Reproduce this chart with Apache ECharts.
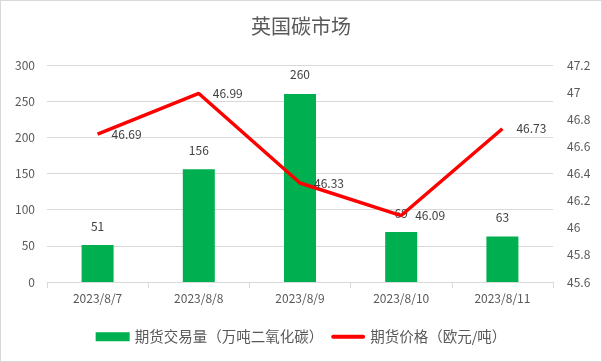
<!DOCTYPE html>
<html><head><meta charset="utf-8">
<script src="https://cdn.jsdelivr.net/npm/echarts@6/dist/echarts.min.js"></script>
<style>html,body{margin:0;padding:0;background:#fff}#c{width:602px;height:362px;box-sizing:border-box;border:1px solid #d9d9d9}</style>
</head><body><div id="c"></div>
<script>
const categories = ['2023/8/7','2023/8/8','2023/8/9','2023/8/10','2023/8/11'];
const volume = [51,156,260,69,63];
const price = [46.69,46.99,46.33,46.09,46.73];
const volName = '期货交易量（万吨二氧化碳）';
const priceName = '期货价格（欧元/吨）';
const font = '"Microsoft YaHei","Noto Sans CJK SC",sans-serif';
const chart = echarts.init(document.getElementById('c'));
chart.setOption({
  animation:false,
  textStyle:{fontFamily:font},
  title:{text:'英国碳市场',left:'center',top:10,textStyle:{fontSize:20,fontWeight:'normal',color:'#595959',fontFamily:font}},
  legend:{bottom:12,itemGap:8,itemWidth:34,itemHeight:9,textStyle:{fontSize:14.5,color:'#595959'},
    data:[{name:volName,icon:'rect'},{name:priceName,icon:'path://M2,0 L32,0 A2,2 0 0 1 32,4 L2,4 A2,2 0 0 1 2,0 Z'}]},
  grid:{left:46,right:48,top:64,bottom:79},
  xAxis:{type:'category',data:categories,axisLine:{lineStyle:{color:'#d9d9d9'}},
    axisTick:{show:true,lineStyle:{color:'#d9d9d9'},length:6},
    axisLabel:{color:'#595959',fontSize:12,margin:10}},
  yAxis:[
    {type:'value',min:0,max:300,interval:50,axisLine:{show:false},axisTick:{show:false},
     axisLabel:{color:'#595959',fontSize:12,margin:12},splitLine:{lineStyle:{color:'#d9d9d9'}}},
    {type:'value',min:45.6,max:47.2,interval:0.2,axisLine:{show:false},axisTick:{show:false},
     axisLabel:{color:'#595959',fontSize:12,margin:14,formatter:v=>String(+v.toFixed(1))},splitLine:{show:false}}
  ],
  series:[
    {name:volName,type:'bar',data:volume,barWidth:32,itemStyle:{color:'#00b050'},
     label:{show:true,position:'top',distance:13,color:'#404040',fontSize:12}},
    {name:priceName,type:'line',yAxisIndex:1,data:price,symbol:'circle',symbolSize:0,showSymbol:true,lineStyle:{color:'#ff0000',width:3.5},itemStyle:{color:'#ff0000'},
     label:{show:true,position:'right',distance:14,color:'#404040',fontSize:12,formatter:p=>p.value.toFixed(2)}}
  ]
});
</script></body></html>
